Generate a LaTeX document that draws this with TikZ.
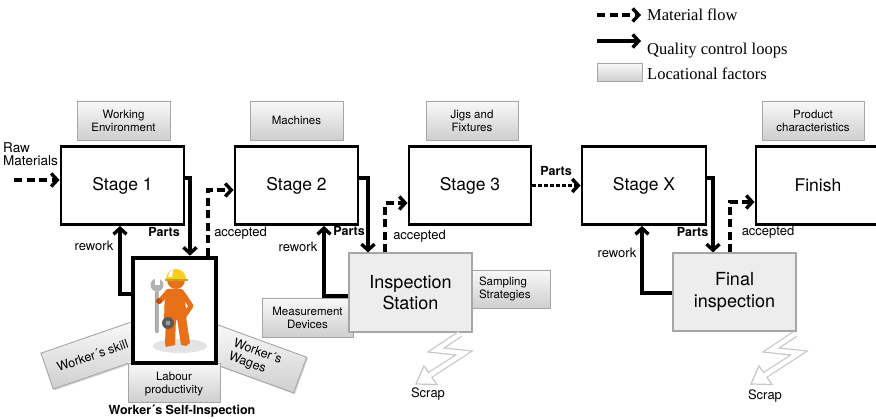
\documentclass[tikz,border=0pt]{standalone}
\usepackage{fontspec}
\setmainfont{TeX Gyre Heros}
\newfontfamily\legendfont{Liberation Serif}
\usetikzlibrary{arrows.meta,shadows,calc}
\newcommand{\fsz}[2]{\fontsize{#1}{#2}\selectfont}
\definecolor{wkorange}{RGB}{232,112,24}
\definecolor{wkdark}{RGB}{190,80,10}
\definecolor{helmet}{RGB}{250,205,30}

\tikzset{
  stagebox/.style={draw=black, line width=2.9pt, fill=white, minimum width=123pt,
    minimum height=78pt, inner sep=0pt, font=\fsz{17.5}{20}},
  locbox/.style={draw=gray!70, line width=0.9pt, top color=gray!5, bottom color=gray!38,
    drop shadow={opacity=0.3, shadow xshift=1.3pt, shadow yshift=-1.3pt},
    inner sep=1pt, align=center, font=\fsz{11.5}{13}},
  inspbox/.style={draw=gray!70, line width=1.1pt, fill=gray!14,
    drop shadow={opacity=0.3, shadow xshift=1.3pt, shadow yshift=-1.3pt},
    inner sep=0pt, align=center, font=\fsz{18}{21.5}},
  framebox/.style={draw=black, line width=4.6pt, fill=white, inner sep=0pt},
  qc/.style={line width=3.4pt, -{Straight Barb[length=6pt,width=13pt]}},
  mf/.style={qc, dash pattern=on 8pt off 4.5pt},
  dotflow/.style={qc, dash pattern=on 3.4pt off 2.6pt},
  lbl/.style={font=\fsz{13}{15}, inner sep=0pt},
  blbl/.style={font=\bfseries\fsz{12.5}{15}, inner sep=0pt},
  legtext/.style={font=\legendfont\fsz{16.5}{19}, inner sep=0pt, anchor=base west},
  scrap/.pic={
    \draw[draw=gray!45, line width=1.2pt, double=white, double distance=4.4pt, line join=miter]
      (0,0) -- (-24,16) -- (4,19) -- (-30,41);
    \filldraw[draw=gray!45, fill=white, line width=1.2pt, line join=miter]
      (-44,50) -- (-23,50.5) -- (-36,32) -- cycle;
    \draw[white, line width=4.4pt] (-26,38.5) -- (-33,43);
  }
}

\begin{document}
\begin{tikzpicture}[x=1pt, y=-1pt]
\useasboundingbox (0,0) rectangle (876,419);

% ---------- legend ----------
\coordinate (lgmfA) at (597,15);
\coordinate (lgmfB) at (641,15);
\draw[mf] (lgmfA) -- (lgmfB);
\node[legtext] (lgmft) at (647,21) {Material flow};
\coordinate (lgqcA) at (597,41);
\coordinate (lgqcB) at (641,41);
\draw[qc] (lgqcA) -- (lgqcB);
\node[legtext] (lgqct) at (647,55) {Quality control loops};
\node[locbox, minimum width=45pt, minimum height=18pt] (lgbox) at (619.5,72) {};
\node[legtext] (lglft) at (647,80) {Locational factors};

% ---------- locational factors above the stages ----------
\node[locbox, minimum width=93pt, minimum height=39pt] (fwork) at (123.5,120.5) {Working\\Environment};
\node[locbox, minimum width=93pt, minimum height=39pt] (fmach) at (296.5,120.5) {Machines};
\node[locbox, minimum width=92pt, minimum height=39pt] (fjigs) at (472,120.5) {Jigs and\\Fixtures};
\node[locbox, minimum width=102pt, minimum height=39pt] (fprod) at (813,120.5) {Product\\characteristics};

% ---------- stages ----------
\node[stagebox] (s1) at (122.5,185.5) {Stage 1};
\node[stagebox] (s2) at (296.5,185.5) {Stage 2};
\node[stagebox, minimum width=122pt] (s3) at (470,185.5) {Stage 3};
\node[stagebox, minimum width=124pt] (sx) at (644,185.5) {Stage X};
\node[stagebox, minimum width=124pt] (finish) at (818,185.5) {Finish};

% ---------- factors around the self-inspection ----------
\node[locbox, minimum width=96pt, minimum height=38pt, rotate=19, font=\fsz{12.5}{14}] (fskill) at (92.5,355.5) {Worker´s skill};
\node[locbox, minimum width=94pt, minimum height=38pt, rotate=-20, text width=52pt, align=left, font=\fsz{12.5}{14}] (fwage) at (256,359) {Worker´s\\Wages};
\node[locbox, minimum width=92pt, minimum height=39pt, text depth=0pt] (flab) at (174,382.5) {Labour\\productivity};

% ---------- factors around the inspection station ----------
\node[locbox, minimum width=91pt, minimum height=39pt] (fmeas) at (307.5,317.5) {Measurement\\Devices};
\node[locbox, minimum width=80pt, minimum height=38pt, text width=62pt, align=left] (fsamp) at (510,289) {Sampling\\Strategies};

% ---------- worker frame ----------
\node[framebox, minimum width=83pt, minimum height=105pt] (ws) at (174.5,310.5) {};
% worker figure
\fill[gray!22] (180,346) ellipse [x radius=27pt, y radius=7pt];
\fill[wkorange] (166,318) -- (176,318) -- (175,345) -- (166,347) -- (165,344) -- cycle;
\fill[wkorange] (177,318) -- (186,317) -- (190,343) -- (186,346) -- (181,345) -- cycle;
\fill[wkorange, rounded corners=3pt] (165,289) -- (184,289) -- (187,320) -- (164,321) -- cycle;
\fill[wkorange] (176,280) circle [radius=9pt];
\fill[helmet] (166,279) arc[start angle=180, end angle=0, radius=10pt] -- cycle;
\fill[white] (168,277) arc[start angle=180, end angle=110, radius=8pt] -- (172,277) -- cycle;
\draw[helmet!80!black, line width=1.2pt] (165,280) -- (188,280);
\draw[wkorange, line width=5pt, line cap=round, line join=round] (183,294) -- (191,306) -- (184,316);
\draw[gray!75, line width=4pt, line cap=round] (157,293) -- (157,331);
\draw[gray!60, line width=3pt, line cap=round] (157,293) -- (157,331);
\fill[gray!60] (157,285) circle [radius=6.5pt];
\fill[white] (154.5,277) rectangle (159.5,285);
\draw[wkorange, line width=5pt, line cap=round] (167,293) -- (160,301);
\fill[wkdark] (159,301) circle [radius=3pt];
\fill[black!65] (168,323) circle [radius=6pt];
\fill[black!40] (168,323) circle [radius=2.5pt];

% ---------- inspection boxes ----------
\node[inspbox, minimum width=123pt, minimum height=79pt] (insp) at (410.5,292.5) {Inspection\\Station};
\node[inspbox, minimum width=123pt, minimum height=78pt] (fin) at (734.5,292) {Final\\inspection};

% scrap outlets
\pic (scrapA) at (460,334) {scrap};
\pic (scrapB) at (795,334) {scrap};
\node[lbl] (scraptA) at (428,394) {Scrap};
\node[lbl] (scraptB) at (765,396) {Scrap};

% ---------- material flow ----------
\coordinate (raw) at (14,180);
\draw[mf] (raw) -- (raw -| s1.west);
\node[lbl, align=left, anchor=north west, font=\fsz{13.5}{13}] (rawt) at (3,142) {Raw\\Materials};
\draw[mf] ([xshift=33.5pt]ws.north) |- ([yshift=-4.5pt]s2.west);
\draw[mf] ([xshift=-25.5pt]insp.north) |- ([yshift=-17.5pt]s3.west);
\draw[dotflow] (s3.east) -- (sx.west);
\draw[mf] ([xshift=-4.5pt]fin.north) |- ([yshift=-16.5pt]finish.west);

% ---------- quality control loops ----------
\draw[qc] ([yshift=7.5pt]s1.east) -| ([xshift=15.5pt]ws.north);
\draw[qc] ([yshift=16.5pt]ws.west) -| ([xshift=-2.5pt]s1.south);
\draw[qc] ([yshift=7.5pt]s2.east) -| ([xshift=-42.5pt]insp.north);
\draw[qc] ([yshift=-3.5pt]insp.west) -| ([xshift=27.5pt]s2.south);
\draw[qc] ([yshift=7.5pt]sx.east) -| ([xshift=-21.5pt]fin.north);
\draw[qc] ([yshift=-1pt]fin.west) -| ([xshift=-2pt]sx.south);

% ---------- connector labels ----------
\node[blbl] (p1) at (164,232.5) {Parts};
\node[lbl] (a1) at (240.5,233) {accepted};
\node[lbl] (r1) at (94,246) {rework};
\node[blbl] (p2) at (349,231) {Parts};
\node[lbl] (a2) at (419.5,236) {accepted};
\node[lbl] (r2) at (298,247) {rework};
\node[blbl] (p3) at (556,171) {Parts};
\node[blbl] (px) at (692.5,232) {Parts};
\node[lbl] (ax) at (768,232) {accepted};
\node[lbl] (rx) at (617,253) {rework};

\node[blbl] (wsi) at (182,411) {Worker´s Self-Inspection};
\end{tikzpicture}
\end{document}
